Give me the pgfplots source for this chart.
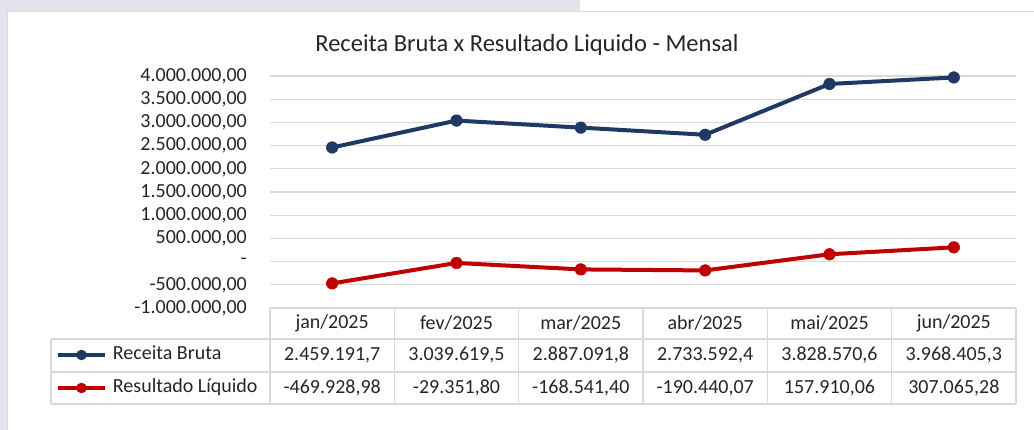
\documentclass[border=0pt]{standalone}
\usepackage{fontspec}
\setmainfont{Carlito}
\usepackage{pgfplots}
\pgfplotsset{compat=1.18}
\definecolor{navyline}{HTML}{203864}
\definecolor{redline}{HTML}{C00000}
\definecolor{gridgray}{HTML}{D9D9D9}
\definecolor{lav}{HTML}{E3E3EE}
\definecolor{txt}{HTML}{262626}
\newcommand{\tf}{\fontsize{20}{24}\selectfont}
\begin{document}
\begin{tikzpicture}
% background
\fill[white] (0,0) rectangle (1034pt,430pt);
\fill[lav] (0,419pt) rectangle (580pt,430pt);
\fill[lav] (0,0) rectangle (6.5pt,430pt);
\draw[gridgray, line width=1.5pt] (7.25pt,0) -- (7.25pt,418.5pt) -- (1034pt,418.5pt);
% title
\node[text=txt, font=\fontsize{24.5}{29}\selectfont] at (527pt,385pt) {Receita Bruta x Resultado Liquido - Mensal};
\begin{axis}[
  at={(270pt,122pt)}, anchor=south west,
  scale only axis, width=746pt, height=232pt,
  xmin=-0.5, xmax=5.5, ymin=-1000000, ymax=4000000,
  scaled y ticks=false,
  xtick=\empty,
  ytick={-1000000,-500000,0,500000,1000000,1500000,2000000,2500000,3000000,3500000,4000000},
  yticklabels={{-1.000.000,00},{-500.000,00},{-},{500.000,00},{1.000.000,00},{1.500.000,00},{2.000.000,00},{2.500.000,00},{3.000.000,00},{3.500.000,00},{4.000.000,00}},
  yticklabel style={font=\tf, text=txt, inner sep=0pt, anchor=east, xshift=-23pt},
  major tick length=0pt,
  axis line style={draw=none},
  ymajorgrids, grid style={draw=gridgray, line width=1.3pt},
  clip=false,
  legend cell align=left,
  legend image code/.code={
    \draw[#1, mark=none] (0pt,0pt) -- (47pt,0pt);
    \draw[#1, only marks, mark size=5pt] plot coordinates {(23.5pt,0pt)};
  },
  legend style={at={(axis description cs:-0.2869,-0.1616)}, anchor=north west,
    draw=none, fill=none, inner sep=0pt, outer sep=0pt, font=\tf, text=txt,
    row sep=14pt, column sep=6pt,
    nodes={inner sep=0pt, text height=14pt, text depth=5pt}},
]
\addplot[navyline, line width=4pt, mark=*, mark size=5.8pt, mark options={solid, line width=0.5pt}]
  coordinates {(0,2459191.7) (1,3039619.5) (2,2887091.8) (3,2733592.4) (4,3828570.6) (5,3968405.3)};
\addlegendentry{Receita Bruta}
\addplot[redline, line width=4pt, mark=*, mark size=5.8pt, mark options={solid, line width=0.5pt}]
  coordinates {(0,-469928.98) (1,-29351.80) (2,-168541.40) (3,-190440.07) (4,157910.06) (5,307065.28)};
\addlegendentry{Resultado Líquido}
\end{axis}
% data table grid
\begin{scope}[gridgray, line width=1.5pt]
\draw (270pt,122pt) -- (1016pt,122pt);
\draw (51pt,91pt) -- (1016pt,91pt);
\draw (51pt,58pt) -- (1016pt,58pt);
\draw (51pt,26pt) -- (1016pt,26pt);
\draw (51pt,26pt) -- (51pt,91pt);
\foreach \x in {270,394.33,518.67,643,767.33,891.67,1016} \draw (\x pt,26pt) -- (\x pt,122pt);
\end{scope}
% table texts
\foreach \m [count=\i from 0] in {jan/2025,fev/2025,mar/2025,abr/2025,mai/2025,jun/2025}
  \node[font=\tf, text=txt] at (332.17pt+\i*124.33pt,107pt) {\m};
\foreach \v [count=\i from 0] in {{2.459.191,7},{3.039.619,5},{2.887.091,8},{2.733.592,4},{3.828.570,6},{3.968.405,3}}
  \node[font=\tf, text=txt] at (332.17pt+\i*124.33pt,75pt) {\v};
\foreach \v [count=\i from 0] in {{-469.928,98},{-29.351,80},{-168.541,40},{-190.440,07},{157.910,06},{307.065,28}}
  \node[font=\tf, text=txt] at (332.17pt+\i*124.33pt,42pt) {\v};
\pgfresetboundingbox
\path[use as bounding box] (0,0) rectangle (1034pt,430pt);
\end{tikzpicture}
\end{document}
